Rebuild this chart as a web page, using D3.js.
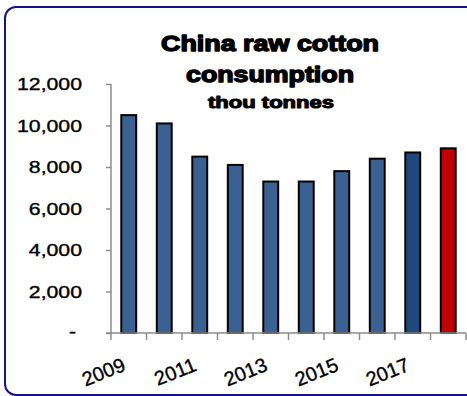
<!DOCTYPE html>
<html>
<head>
<meta charset="utf-8">
<script src="https://cdn.jsdelivr.net/npm/d3@7"></script>
<style>
  html, body { margin: 0; padding: 0; background: #fff; }
  svg { display: block; }
</style>
</head>
<body>
<svg id="chart" width="467" height="396"></svg>
<script>
// China raw cotton consumption, thousand tonnes
const years = ["2009", "2010", "2011", "2012", "2013", "2014", "2015", "2016", "2017", "2018"];
const consumption = [10500, 10100, 8500, 8100, 7300, 7300, 7800, 8400, 8700, 8900];
const barColors = ["#3a6192", "#3a6192", "#3a6192", "#3a6192", "#3a6192", "#3a6192", "#3a6192", "#3a6192", "#1f487c", "#c00000"];
const yTicks = [0, 2000, 4000, 6000, 8000, 10000, 12000];
const xLabelYears = ["2009", "2011", "2013", "2015", "2017"];
const titleLines = ["China raw cotton", "consumption"];
const subtitle = "thou tonnes";

const svg = d3.select("#chart");

// rounded frame around the chart area
svg.append("rect")
  .attr("x", 5).attr("y", 7)
  .attr("width", 475).attr("height", 388)
  .attr("rx", 11).attr("ry", 11)
  .attr("fill", "#fff")
  .attr("stroke", "#14148c")
  .attr("stroke-width", 2);

const plot = { left: 111, right: 466, top: 84, bottom: 333 };

const x = d3.scaleBand()
  .domain(years)
  .range([plot.left, plot.right])
  .paddingInner(0.58)
  .paddingOuter(0.29);

const y = d3.scaleLinear()
  .domain([0, 12000])
  .range([plot.bottom, plot.top]);

const axisColor = "#8c8c8c";

// bars
svg.append("g")
  .selectAll("rect")
  .data(consumption)
  .join("rect")
  .attr("x", (d, i) => x(years[i]))
  .attr("y", d => y(d))
  .attr("width", x.bandwidth())
  .attr("height", d => y(0) - y(d))
  .attr("fill", (d, i) => barColors[i])
  .attr("stroke", "#000")
  .attr("stroke-width", 2);

// y axis
const yAxis = svg.append("g")
  .attr("transform", `translate(${plot.left},0)`)
  .call(d3.axisLeft(y).tickValues(yTicks).tickSize(5).tickFormat(""));
yAxis.selectAll("path, line").attr("stroke", axisColor).attr("stroke-width", 1.5);
yAxis.select(".domain").attr("d", `M0,${plot.top}V${plot.bottom + 7}`);

// y tick labels
const fmt = d3.format(",");
svg.append("g")
  .selectAll("text")
  .data(yTicks)
  .join("text")
  .attr("transform", d => `translate(82,${y(d) + 6}) scale(1.25,1)`)
  .attr("text-anchor", "end")
  .attr("font-family", "Liberation Sans, Arial, sans-serif")
  .attr("font-size", 17)
  .attr("fill", "#000")
  .attr("stroke", "#000")
  .attr("stroke-width", 0.35)
  .text(d => d === 0 ? "-" : fmt(d))
  .filter(d => d === 0)
  .attr("transform", d => `translate(76,${y(d) + 4}) scale(1.25,1)`);

// x axis with ticks at category boundaries
const xAxisG = svg.append("g");
xAxisG.append("line")
  .attr("x1", plot.left - 5).attr("x2", plot.right)
  .attr("y1", plot.bottom).attr("y2", plot.bottom)
  .attr("stroke", axisColor).attr("stroke-width", 1.5);
const step = x.step();
xAxisG.selectAll("line.tick")
  .data(years.slice(1).concat(["end"]))
  .join("line")
  .attr("class", "tick")
  .attr("x1", (d, i) => plot.left + step * (i + 1))
  .attr("x2", (d, i) => plot.left + step * (i + 1))
  .attr("y1", plot.bottom)
  .attr("y2", plot.bottom + 7)
  .attr("stroke", axisColor).attr("stroke-width", 1.5);

// rotated year labels
svg.append("g")
  .selectAll("text")
  .data(xLabelYears)
  .join("text")
  .attr("transform", d => `translate(${x(d) + x.bandwidth() / 2 - 2},${plot.bottom + 37}) rotate(-22)`)
  .attr("text-anchor", "end")
  .attr("font-family", "Liberation Sans, Arial, sans-serif")
  .attr("font-size", 20)
  .attr("fill", "#000")
  .attr("stroke", "#000")
  .attr("stroke-width", 0.35)
  .text(d => d);

// title
const titleG = svg.append("g")
  .attr("font-family", "Liberation Sans, Arial, sans-serif")
  .attr("font-weight", "bold")
  .attr("fill", "#000")
  .attr("stroke", "#000")
  .attr("stroke-linejoin", "round")
  .attr("text-anchor", "middle");

titleG.append("text")
  .attr("x", 270).attr("y", 51)
  .attr("font-size", 22)
  .attr("stroke-width", 1.4)
  .attr("textLength", 218)
  .attr("lengthAdjust", "spacingAndGlyphs")
  .text(titleLines[0]);

titleG.append("text")
  .attr("x", 270).attr("y", 82)
  .attr("font-size", 22)
  .attr("stroke-width", 1.4)
  .attr("textLength", 168)
  .attr("lengthAdjust", "spacingAndGlyphs")
  .text(titleLines[1]);

titleG.append("text")
  .attr("x", 271).attr("y", 108)
  .attr("font-size", 16)
  .attr("stroke-width", 1)
  .attr("textLength", 126)
  .attr("lengthAdjust", "spacingAndGlyphs")
  .text(subtitle);
</script>
</body>
</html>
